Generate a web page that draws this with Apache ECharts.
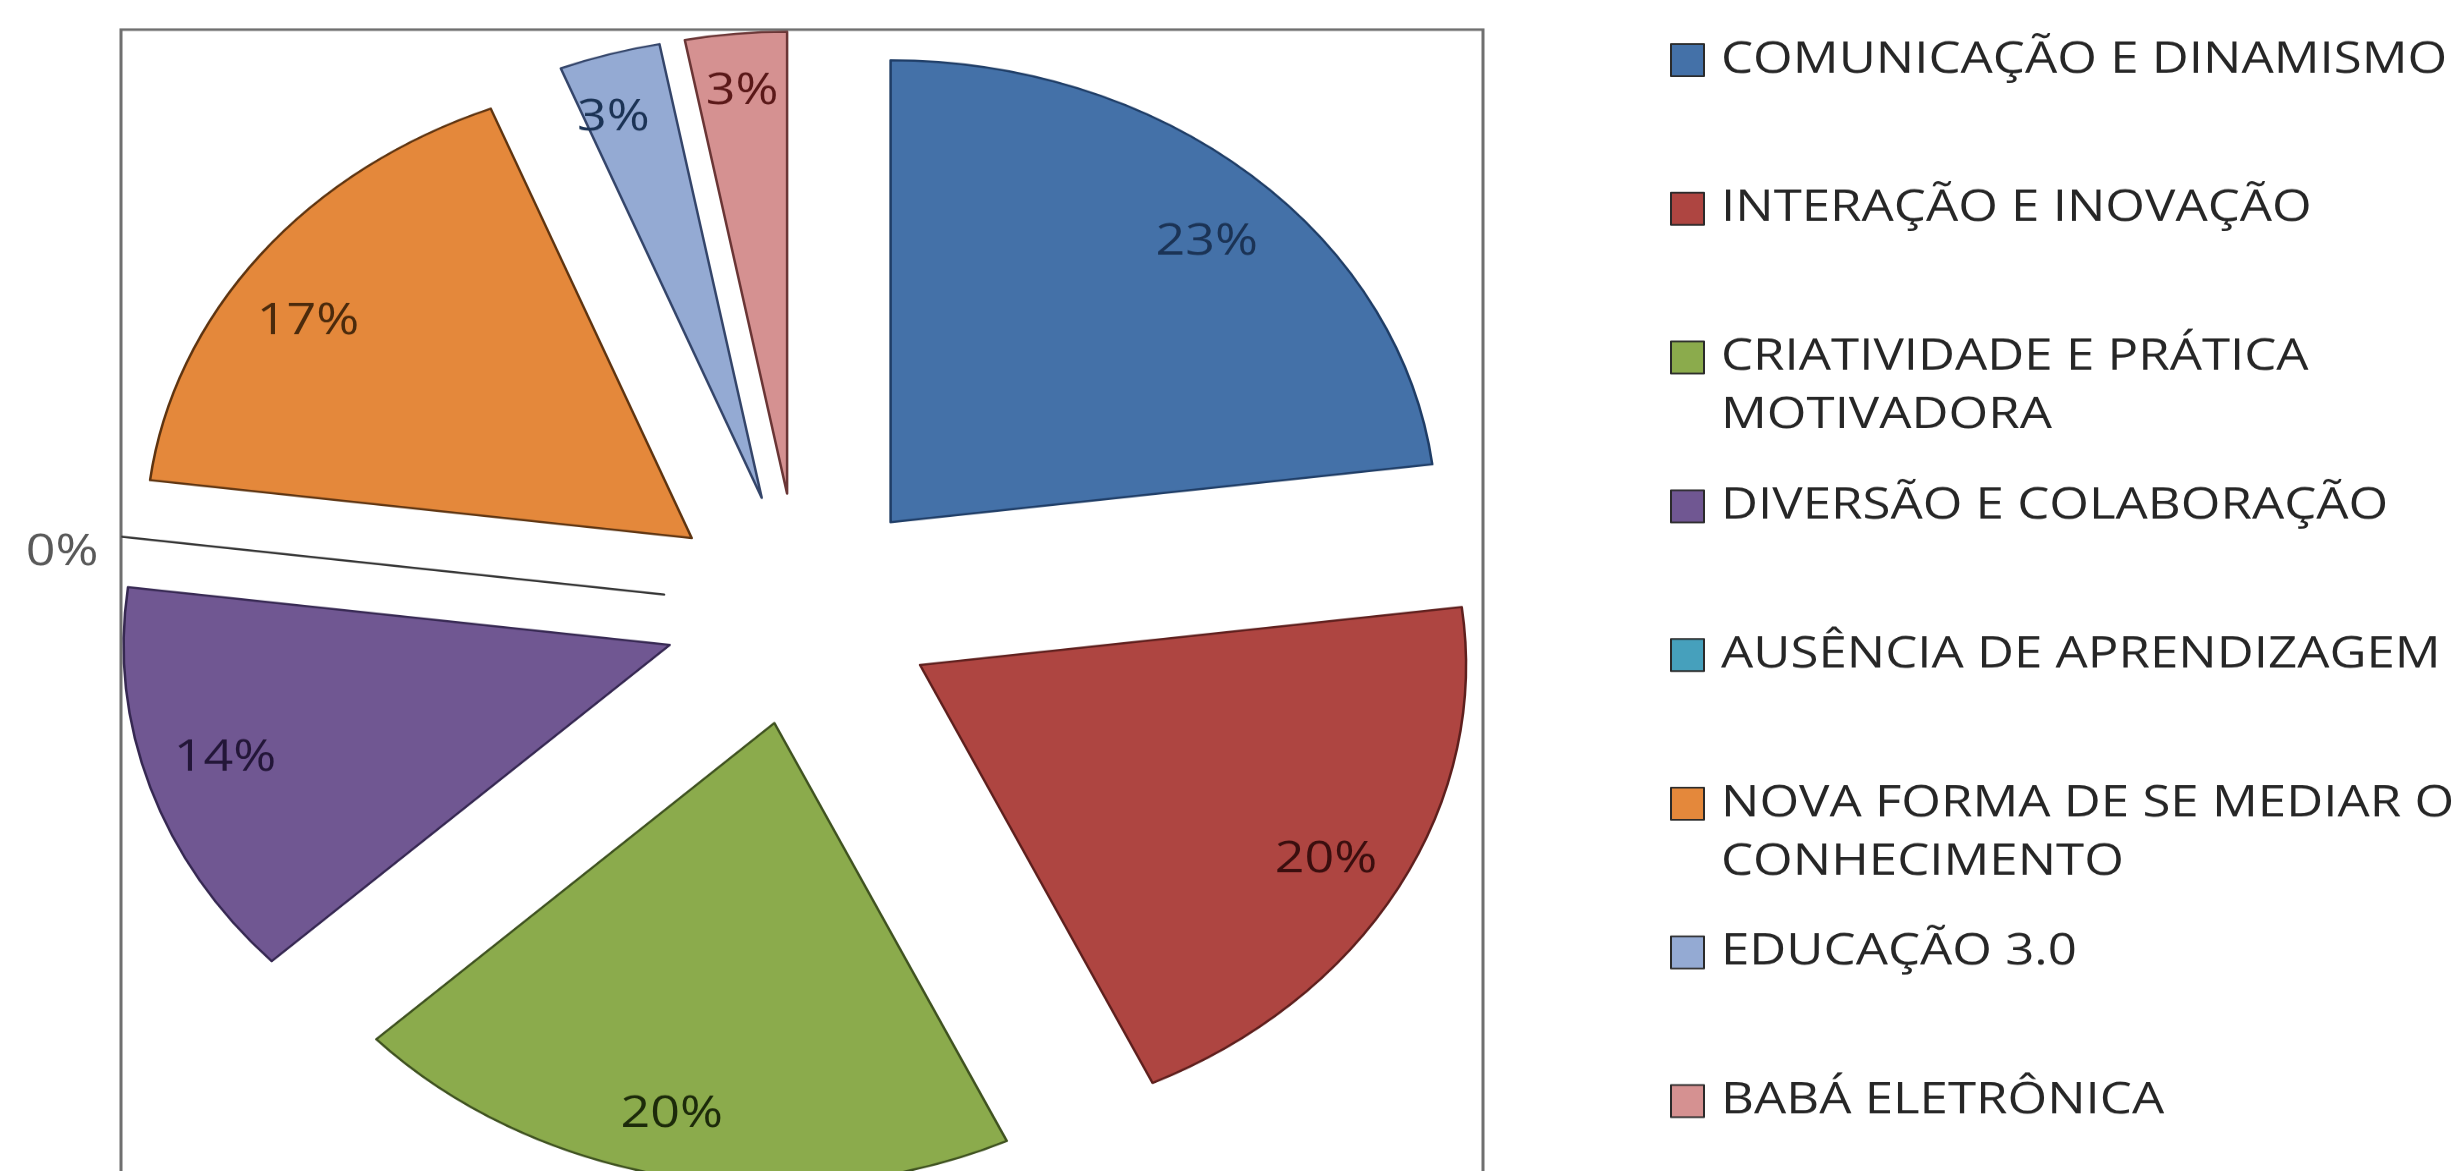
<!DOCTYPE html>
<html><head><meta charset="utf-8">
<script src="https://cdn.jsdelivr.net/npm/echarts@6/dist/echarts.min.js"></script>
<style>
html,body{margin:0;padding:0;background:#fff;overflow:hidden;width:2463px;height:1171px;}
#wrap{width:2463px;height:1171px;overflow:hidden;position:relative;}
#chart{width:2463px;height:1384px;transform:scaleY(0.846);transform-origin:0 0;}
</style></head><body><div id="wrap"><div id="chart"></div></div>
<script>
// ---- data ----
const categories = [
  'COMUNICAÇÃO E DINAMISMO',
  'INTERAÇÃO E INOVAÇÃO',
  'CRIATIVIDADE E PRÁTICA MOTIVADORA',
  'DIVERSÃO E COLABORAÇÃO',
  'AUSÊNCIA DE APRENDIZAGEM',
  'NOVA FORMA DE SE MEDIAR O CONHECIMENTO',
  'EDUCAÇÃO 3.0',
  'BABÁ ELETRÔNICA'
];
const legendLines = [
  ['COMUNICAÇÃO E DINAMISMO'],
  ['INTERAÇÃO E INOVAÇÃO'],
  ['CRIATIVIDADE E PRÁTICA', 'MOTIVADORA'],
  ['DIVERSÃO E COLABORAÇÃO'],
  ['AUSÊNCIA DE APRENDIZAGEM'],
  ['NOVA FORMA DE SE MEDIAR O', 'CONHECIMENTO'],
  ['EDUCAÇÃO 3.0'],
  ['BABÁ ELETRÔNICA']
];
const values = [23, 20, 20, 14, 0, 17, 3, 3];

// ---- styles ----
const colors = ['#4471A8', '#AE4541', '#8BAB4C', '#705792', '#46A0BC', '#E4883B', '#94AAD3', '#D59191'];
const borderColors = ['#1F3D66', '#5E1F1D', '#3F5220', '#362852', '#1E5566', '#5E3410', '#34456A', '#6A3535'];
const labelColors = ['#1B3355', '#3A0E0E', '#1C2A0A', '#231638', '#1E5566', '#4A2A0C', '#1B3355', '#5A1818'];
// fine label nudges (pixels) to mimic the original placement
const labelShift = [[0, 28], [-13, 0], [-13, -7], [10, -14], [0, 19], [-6, 37], [-15, 10], [0, 0]];

const CX = 800, CY = 720, R = 546, OFFSET = 137;
const FONT = 'Open Sans';
const LFS = 51, DFS = 52, LH = 69;
const rowStart = 71, rowPitch = 175.8;

const mainData = categories.map((n, i) => {
  const d = {
    name: n, value: values[i], selected: true,
    itemStyle: { color: colors[i], borderColor: values[i] === 0 ? '#333' : borderColors[i], borderWidth: 2.5 }
  };
  if (values[i] === 0) {
    d.label = { show: true, position: 'outside', formatter: '{d}%', color: '#595959',
      fontSize: DFS, fontFamily: FONT };
    d.labelLine = { show: false, length: 0, length2: 19 };
  } else {
    d.label = { show: false };
  }
  return d;
});

const labelData = categories.map((n, i) => ({
  name: n, value: values[i], selected: true,
  label: { show: values[i] > 0, color: labelColors[i] }
}));

const legends = categories.map((n, i) => {
  const lines = legendLines[i].length;
  const center = rowStart + rowPitch * i;
  const shown = lines > 1 ? [' '].concat(legendLines[i]) : legendLines[i];
  const h = LH * shown.length;
  return {
    data: [n], orient: 'vertical', left: 1670, top: center - h / 2, padding: 0,
    itemWidth: 33, itemHeight: 38, icon: 'rect', selectedMode: false,
    itemStyle: { borderColor: '#2a2a2a', borderWidth: 2 },
    formatter: () => shown.join('\n'),
    textStyle: { fontSize: LFS, fontFamily: FONT, color: '#262626', lineHeight: LH,
      padding: [0, 0, 0, 12] }
  };
});

const chart = echarts.init(document.getElementById('chart'), null, { renderer: 'canvas' });
chart.setOption({
  animation: false,
  backgroundColor: '#ffffff',
  color: colors,
  tooltip: { show: false },
  legend: legends,
  graphic: [{
    type: 'rect', z: -10, silent: true,
    shape: { x: 121, y: 35, width: 1362, height: 1600 },
    style: { fill: 'none', stroke: '#6f6f6f', lineWidth: 3 }
  }],
  series: [
    {
      type: 'pie', name: 'main', center: [CX, CY], radius: [0, R],
      startAngle: 90, clockwise: true,
      selectedMode: 'multiple', selectedOffset: OFFSET,
      avoidLabelOverlap: false,
      emphasis: { disabled: true },
      label: { show: false }, labelLine: { show: false },
      labelLayout: (p) => ({ dx: labelShift[p.dataIndex][0], dy: labelShift[p.dataIndex][1] }),
      data: mainData
    },
    {
      type: 'pie', name: 'labels', center: [CX, CY], radius: [404, R],
      startAngle: 90, clockwise: true, silent: true, z: 5,
      selectedMode: 'multiple', selectedOffset: OFFSET,
      avoidLabelOverlap: false,
      emphasis: { disabled: true },
      itemStyle: { color: 'rgba(0,0,0,0)', borderWidth: 0 },
      label: { show: true, position: 'inside', formatter: '{d}%', fontSize: DFS, fontFamily: FONT },
      labelLine: { show: false },
      labelLayout: (p) => ({ dx: labelShift[p.dataIndex][0], dy: labelShift[p.dataIndex][1] }),
      data: labelData
    }
  ]
});
</script></body></html>
